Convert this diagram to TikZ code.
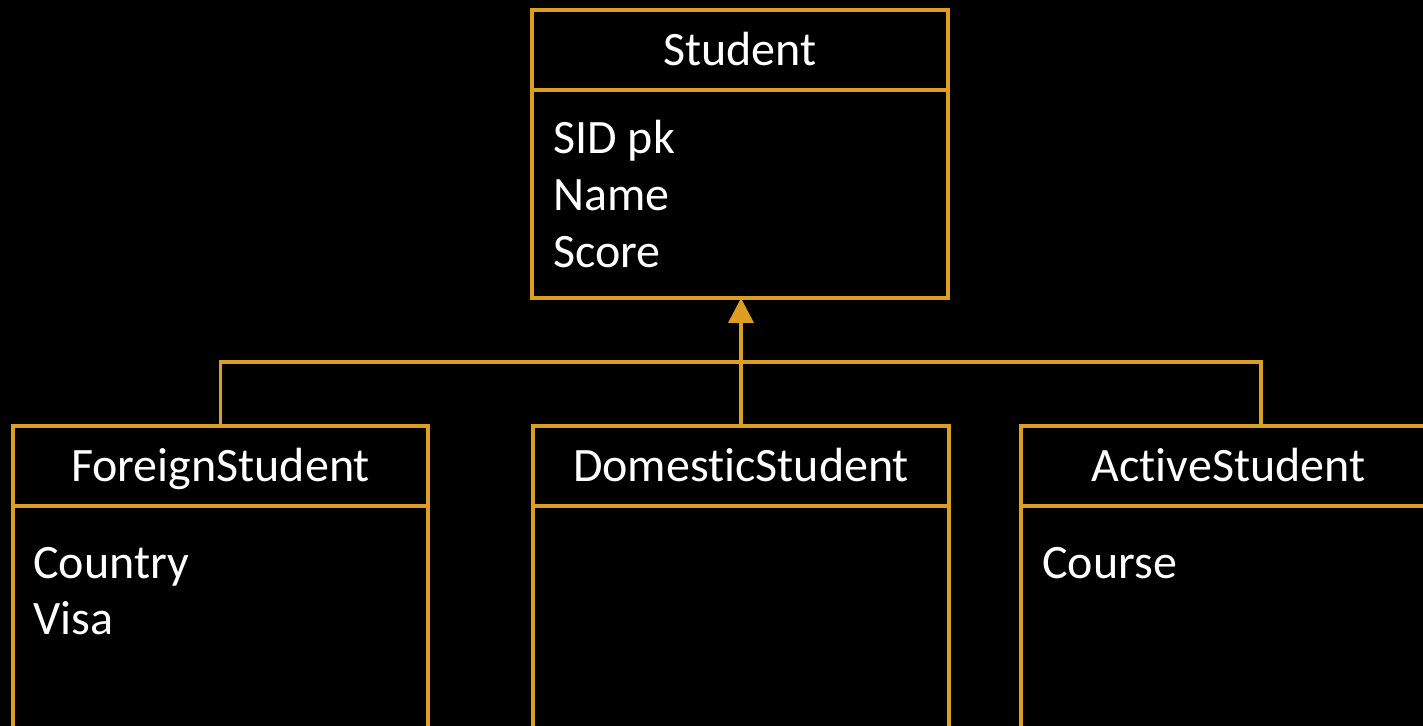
\documentclass[tikz,border=0pt]{standalone}
\usepackage{fontspec}
\setmainfont{Carlito}[Ligatures=CommonOff]
\usetikzlibrary{arrows.meta}
\definecolor{umlgold}{RGB}{221,159,33}
\begin{document}
\begin{tikzpicture}[x=0.5pt,y=-0.5pt,
  cls/.style={draw=umlgold, line width=1.8pt, fill=black, inner sep=0pt, outer sep=0pt},
  hdr/.style={cls, minimum height=40pt, text=white, font=\fontsize{24}{28.5}\selectfont,
    text height=18pt, text depth=2pt},
  body/.style={cls},
  attr/.style={text=white, font=\fontsize{24}{28.5}\selectfont, inner sep=0pt, anchor=base west},
  conn/.style={draw=umlgold, line width=1.8pt},
  gen/.style={conn, -{Triangle[length=12.5pt,width=12.5pt]}}]
% page
\fill[black] (0,0) rectangle (1423,726);
\useasboundingbox (0,0) rectangle (1423,726);
\clip (0,0) rectangle (1423,726);

% superclass
\node[body, minimum width=208pt, minimum height=104pt] (stub) at (740,194) {};
\node[hdr, minimum width=208pt] (stu) at (740,50) {Student};
\node[attr] (sid) at (553,154) {SID pk};
\node[attr] (sname) at (553,211) {Name};
\node[attr] (sscore) at (553,268) {Score};

% subclasses
\node[body, minimum width=207.5pt, minimum height=150pt] (fsb) at (220.5,656) {};
\node[hdr, minimum width=207.5pt] (fs) at (220.5,466) {ForeignStudent};
\node[attr] (fcountry) at (33,578) {Country};
\node[attr] (fvisa) at (33,634) {Visa};

\node[body, minimum width=208pt, minimum height=150pt] (dsb) at (741,656) {};
\node[hdr, minimum width=208pt] (ds) at (741,466) {DomesticStudent};

\node[body, minimum width=207.5pt, minimum height=150pt] (asb) at (1228.5,656) {};
\node[hdr, minimum width=207.5pt] (as) at (1228.5,466) {ActiveStudent};
\node[attr] (acourse) at (1042,578) {Course};

% generalisation connectors
\coordinate (bus) at (741,362);
\draw[conn] (fs.north) |- (bus) -| ([xshift=16.25pt]as.north);
\draw[gen] (ds.north) -- (ds.north |- stub.south);
\end{tikzpicture}
\end{document}
